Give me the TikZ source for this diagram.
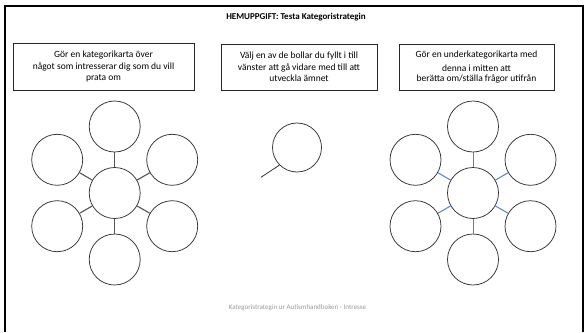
\documentclass[tikz,border=0pt]{standalone}
\usepackage{fontspec}
\setmainfont{Carlito}
\definecolor{ballline}{HTML}{333333}
\definecolor{blueconn}{HTML}{5B7FC0}
\definecolor{grayconn}{HTML}{555555}
\definecolor{foot}{HTML}{9A9A9A}
\begin{document}
\begin{tikzpicture}[x=1pt,y=-1pt,
  ball/.style={circle,draw=ballline,line width=0.75pt,minimum size=51pt,inner sep=0pt},
  taskbox/.style={draw=black!85,line width=0.8pt,inner sep=0pt,align=center,
    font=\fontsize{9.5}{11.3}\selectfont},
  lconn/.style={draw=grayconn,line width=1.1pt},
  rconn/.style={draw=blueconn,line width=1pt},
]
\useasboundingbox (0,0) rectangle (588,332);
\fill[white] (0,0) rectangle (588,332);
\draw[line width=2pt] (4.5,332) -- (4.5,5.5) -- (583,5.5) -- (583,332);

\node[font=\bfseries\fontsize{9}{10}\selectfont] (title) at (296,17.5) {HEMUPPGIFT: Testa Kategoristrategin};

\node[taskbox,minimum width=181pt,minimum height=47pt] (b1) at (103.5,66.5)
  {Gör en kategorikarta över\\något som intresserar dig som du vill\\prata om};
\node[taskbox,minimum width=156pt,minimum height=46pt] (b2) at (299,67)
  {Välj en av de bollar du fyllt i till\\vänster att gå vidare med till att\\utveckla ämnet};
\node[taskbox,minimum width=155pt,minimum height=46pt] (b3) at (476.5,67)
  {Gör en underkategorikarta med\\[2.5pt]denna i mitten att\\[-1.5pt]berätta om/ställa frågor utifrån};

% left cluster
\node[ball] (lc) at (114.7,193) {};
\node[ball] (lt) at (114.7,126.5) {};
\node[ball] (lb) at (114.7,259.5) {};
\node[ball] (lul) at (57.2,159.8) {};
\node[ball] (lur) at (172.2,159.8) {};
\node[ball] (lll) at (57.2,226.2) {};
\node[ball] (llr) at (172.2,226.2) {};
\foreach \n in {lt,lb,lul,lur,lll,llr} \draw[lconn] (lc) -- (\n);

% middle
\node[ball,minimum size=49pt] (m) at (297,147.5) {};
\coordinate (mend) at (261,177.3);
\draw[draw=ballline,line width=0.8pt] (m.225) -- (mend);

% right cluster
\node[ball] (rc) at (473,193) {};
\node[ball] (rt) at (473,126.5) {};
\node[ball] (rb) at (473,259.5) {};
\node[ball] (rul) at (415.5,159.8) {};
\node[ball] (rur) at (530.5,159.8) {};
\node[ball] (rll) at (415.5,226.2) {};
\node[ball] (rlr) at (530.5,226.2) {};
\foreach \n in {rt,rb,rul,rur,rll,rlr} \draw[rconn] (rc) -- (\n);

\node[text=foot,font=\fontsize{7}{8}\selectfont] (footer) at (297.5,308) {Kategoristrategin ur Autismhandboken - Intresse};
\end{tikzpicture}
\end{document}
